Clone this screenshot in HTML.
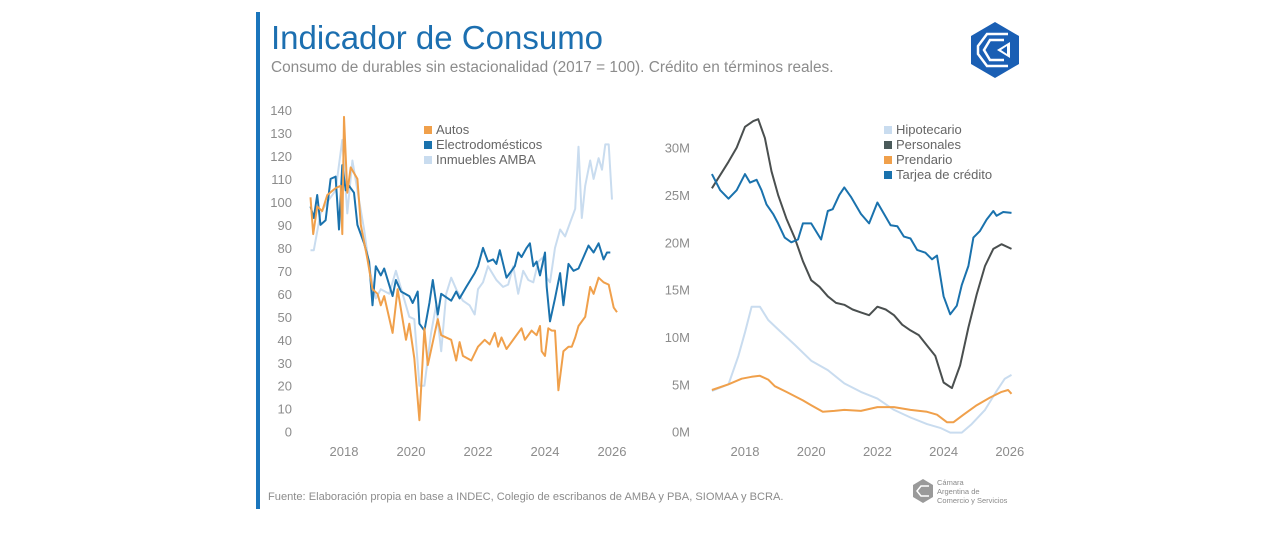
<!DOCTYPE html>
<html><head><meta charset="utf-8"><style>
body{margin:0;background:#fff;width:1280px;height:531px;overflow:hidden;font-family:"Liberation Sans",sans-serif;}
</style></head><body>
<svg width="1280" height="531" viewBox="0 0 1280 531" style="font-family:'Liberation Sans',sans-serif">
<rect x="256" y="12" width="4" height="497" fill="#1a75bc"/>
<text x="271" y="49" font-size="33" fill="#1c6fb0">Indicador de Consumo</text>
<text x="271" y="72" font-size="15.4" fill="#8c8c8c">Consumo de durables sin estacionalidad (2017 = 100). Crédito en términos reales.</text>
<text x="268" y="500" font-size="11.1" fill="#8c8c8c">Fuente: Elaboración propia en base a INDEC, Colegio de escribanos de AMBA y PBA, SIOMAA y BCRA.</text>
<g>
<polygon points="995,22 1019,36 1019,64 995,78 971,64 971,36" fill="#1a5fb4"/>
<polyline points="1008,34 987,34 978,46 978,54 987,66 1008,66" fill="none" stroke="#fff" stroke-width="2.5"/>
<polyline points="1004,40 990,40 984,50 990,60 1004,60" fill="none" stroke="#fff" stroke-width="2.5"/>
<polygon points="1010,42 1010,58 997,50" fill="#fff"/>
<polygon points="1007,46 1007,54 1001,50" fill="#1a5fb4"/>
</g>
<g>
<polygon points="923,479 933,485 933,497 923,503 913,497 913,485" fill="#9a9a9a"/>
<polyline points="929,486 921,486 917,491 921,496 929,496" fill="none" stroke="#fff" stroke-width="1.5"/>
<text x="937" y="485" font-size="7.5" fill="#8a8a8a">Cámara</text>
<text x="937" y="494" font-size="7.5" fill="#8a8a8a">Argentina de</text>
<text x="937" y="503" font-size="7.5" fill="#8a8a8a">Comercio y Servicios</text>
</g>
<g id="left"></g>
<g id="right"></g>
</svg>
<script>
const NS="http://www.w3.org/2000/svg";
// Left chart data
const autosT=[2017.0,2017.08,2017.2,2017.35,2017.5,2017.75,2017.9,2017.95,2018.0,2018.1,2018.2,2018.4,2018.5,2018.7,2018.85,2019.0,2019.1,2019.2,2019.45,2019.6,2019.85,2019.95,2020.1,2020.25,2020.4,2020.5,2020.8,2020.9,2021.2,2021.35,2021.45,2021.55,2021.8,2022.0,2022.2,2022.35,2022.5,2022.6,2022.7,2022.85,2023.1,2023.3,2023.4,2023.6,2023.75,2023.85,2023.9,2024.0,2024.1,2024.2,2024.3,2024.4,2024.55,2024.7,2024.8,2024.9,2025.0,2025.2,2025.35,2025.45,2025.6,2025.75,2025.9,2026.05,2026.15];
const autosV=[102,86,98,96,103,106,107,86,137,104,115,110,90,75,62,60,55,59,43,62,40,47,32,5,45,29,49,42,40,31,39,33,31,37,40,38,43,37,41,36,41,45,40,44,42,46,35,33,45,44,44,18,35,37,37,41,46,50,63,60,67,65,64,54,52];
const electroT=[2017.0,2017.1,2017.2,2017.3,2017.45,2017.6,2017.75,2017.85,2017.95,2018.05,2018.15,2018.3,2018.4,2018.6,2018.75,2018.85,2018.95,2019.1,2019.2,2019.45,2019.55,2019.7,2019.95,2020.05,2020.2,2020.25,2020.4,2020.55,2020.65,2020.8,2020.9,2021.2,2021.35,2021.45,2021.65,2021.9,2022.0,2022.15,2022.3,2022.45,2022.55,2022.65,2022.85,2023.0,2023.1,2023.2,2023.3,2023.45,2023.55,2023.65,2023.75,2023.85,2024.0,2024.05,2024.15,2024.3,2024.45,2024.55,2024.7,2024.85,2025.0,2025.15,2025.3,2025.45,2025.6,2025.75,2025.85,2025.95];
const electroV=[98,93,103,90,92,110,111,88,116,105,107,104,90,82,74,55,72,68,71,59,66,61,59,56,61,47,44,56,66,51,60,57,61,58,63,69,72,80,74,75,73,79,67,70,72,78,76,80,82,72,74,68,78,63,48,58,69,55,73,70,71,76,81,78,82,75,78,78];
const inmT=[2017.0,2017.1,2017.3,2017.5,2017.75,2017.95,2018.1,2018.25,2018.4,2018.6,2018.75,2018.95,2019.1,2019.35,2019.55,2019.75,2019.95,2020.1,2020.25,2020.4,2020.6,2020.75,2020.9,2021.05,2021.2,2021.35,2021.55,2021.75,2021.9,2022.0,2022.15,2022.3,2022.55,2022.75,2022.9,2023.05,2023.2,2023.35,2023.5,2023.65,2023.8,2023.95,2024.05,2024.15,2024.3,2024.45,2024.6,2024.75,2024.9,2025.0,2025.1,2025.2,2025.35,2025.45,2025.6,2025.7,2025.8,2025.9,2026.0];
const inmV=[79,79,95,100,105,127,95,118,105,88,72,58,62,60,70,60,50,49,20,20,43,55,35,60,67,62,57,55,51,62,65,72,66,63,64,72,60,70,66,65,74,76,67,65,80,88,85,91,97,124,93,107,118,110,119,114,125,125,101];
const leftTicks=[0,10,20,30,40,50,60,70,80,90,100,110,120,130,140];
const yearTicks=[2018,2020,2022,2024,2026];
// Right chart data
const persT=[2017.0,2017.5,2017.75,2018.0,2018.25,2018.4,2018.6,2018.8,2019.0,2019.25,2019.5,2019.75,2020.0,2020.25,2020.5,2020.75,2021.0,2021.25,2021.5,2021.75,2022.0,2022.25,2022.5,2022.75,2023.0,2023.25,2023.5,2023.75,2024.0,2024.25,2024.5,2024.75,2025.0,2025.25,2025.5,2025.75,2026.05];
const persV=[25.7,28.5,30,32.2,32.8,33.0,31,27.5,25,22.5,20.5,18,16,15.3,14.3,13.6,13.4,12.9,12.6,12.3,13.2,12.9,12.3,11.3,10.7,10.2,9.1,8.0,5.2,4.6,7,11,14.5,17.5,19.3,19.8,19.3];
const tarjT=[2017.0,2017.25,2017.5,2017.75,2018.0,2018.15,2018.35,2018.5,2018.65,2018.85,2019.0,2019.2,2019.4,2019.6,2019.75,2020.0,2020.3,2020.5,2020.65,2020.85,2021.0,2021.2,2021.5,2021.75,2022.0,2022.2,2022.4,2022.6,2022.8,2023.0,2023.2,2023.45,2023.65,2023.8,2024.0,2024.2,2024.4,2024.55,2024.75,2024.9,2025.1,2025.3,2025.5,2025.6,2025.8,2026.05];
const tarjV=[27.2,25.5,24.6,25.5,27.2,26.3,26.6,25.5,24,23,22,20.5,20,20.3,22,22,20.3,23.3,23.5,25,25.8,24.8,23,22,24.2,23,21.8,21.7,20.6,20.4,19.2,18.9,18.2,18.6,14.3,12.4,13.3,15.5,17.5,20.5,21.2,22.4,23.3,22.8,23.2,23.1];
const hipoT=[2017.0,2017.5,2017.8,2018.0,2018.2,2018.45,2018.7,2019.0,2019.5,2020.0,2020.5,2021.0,2021.5,2022.0,2022.5,2023.0,2023.5,2023.9,2024.2,2024.55,2024.85,2025.25,2025.6,2025.85,2026.05];
const hipoV=[4.3,5,8,10.5,13.2,13.2,11.8,10.8,9.2,7.5,6.5,5.1,4.2,3.5,2.3,1.5,0.8,0.4,-0.1,-0.1,0.8,2.3,4.3,5.6,6.0];
const prenT=[2017.0,2017.5,2017.9,2018.2,2018.45,2018.7,2018.9,2019.25,2019.75,2020.0,2020.35,2020.7,2021.0,2021.5,2022.0,2022.5,2023.0,2023.5,2023.8,2024.1,2024.3,2024.6,2025.0,2025.4,2025.75,2025.95,2026.05];
const prenV=[4.4,5,5.6,5.8,5.9,5.5,4.8,4.2,3.3,2.8,2.1,2.2,2.3,2.2,2.6,2.6,2.3,2.1,1.8,1.0,1.0,1.8,2.8,3.6,4.2,4.4,4.0];
const rightTicks=[0,5,10,15,20,25,30];

const lx=t=>344+(t-2018)*33.5, ly=v=>431.7-v*2.298;
const rx=t=>745+(t-2018)*33.1, ry=v=>431.7-v*9.47;
function el(tag,attrs,parent,txt){const e=document.createElementNS(NS,tag);for(const k in attrs)e.setAttribute(k,attrs[k]);if(txt!==undefined)e.textContent=txt;parent.appendChild(e);return e;}
function line(g,T,V,fx,fy,color,name){const p=el('path',{d:T.map((t,i)=>(i?'L':'M')+fx(t).toFixed(1)+','+fy(V[i]).toFixed(1)).join(''),fill:'none',stroke:color,'stroke-width':2,'stroke-linejoin':'round'},g);

}
function legend(g,x,y,items){items.forEach((it,i)=>{const r=el('rect',{x:x,y:y+i*15-8,width:8,height:8,fill:it[1]},g);


const t=el('text',{x:x+12,y:y+i*15,'font-size':13,fill:'#666'},g,it[0]);

});}
const L=document.getElementById('left'),R=document.getElementById('right');
leftTicks.forEach(v=>{const t=el('text',{x:292,y:Math.min(ly(v)+5,437),'text-anchor':'end','font-size':13,fill:'#8c8c8c'},L,String(v));

});
yearTicks.forEach(y=>{const t=el('text',{x:lx(y),y:456,'text-anchor':'middle','font-size':13,fill:'#8c8c8c'},L,String(y));

});
line(L,inmT,inmV,lx,ly,'#c9dcef','inmuebles-line');
line(L,electroT,electroV,lx,ly,'#1a72ad','electro-line');
line(L,autosT,autosV,lx,ly,'#f0a04b','autos-line');
legend(L,424,134,[['Autos','#f0a04b','autos'],['Electrodomésticos','#1a72ad','electro'],['Inmuebles AMBA','#c9dcef','inmuebles']]);
rightTicks.forEach(v=>{const t=el('text',{x:690,y:Math.min(ry(v)+5,437),'text-anchor':'end','font-size':13,fill:'#8c8c8c'},R,v+'M');

});
yearTicks.forEach(y=>{const t=el('text',{x:rx(y),y:456,'text-anchor':'middle','font-size':13,fill:'#8c8c8c'},R,String(y));

});
line(R,hipoT,hipoV,rx,ry,'#c9dcef','hipotecario-line');
line(R,prenT,prenV,rx,ry,'#f0a04b','prendario-line');
line(R,persT,persV,rx,ry,'#4a4f4f','personales-line');
line(R,tarjT,tarjV,rx,ry,'#1a72ad','tarjeta-line');
legend(R,884,134,[['Hipotecario','#c9dcef','hipotecario'],['Personales','#4a5a5a','personales'],['Prendario','#f0a04b','prendario'],['Tarjea de crédito','#1a72ad','tarjeta']]);
</script>
</body></html>
